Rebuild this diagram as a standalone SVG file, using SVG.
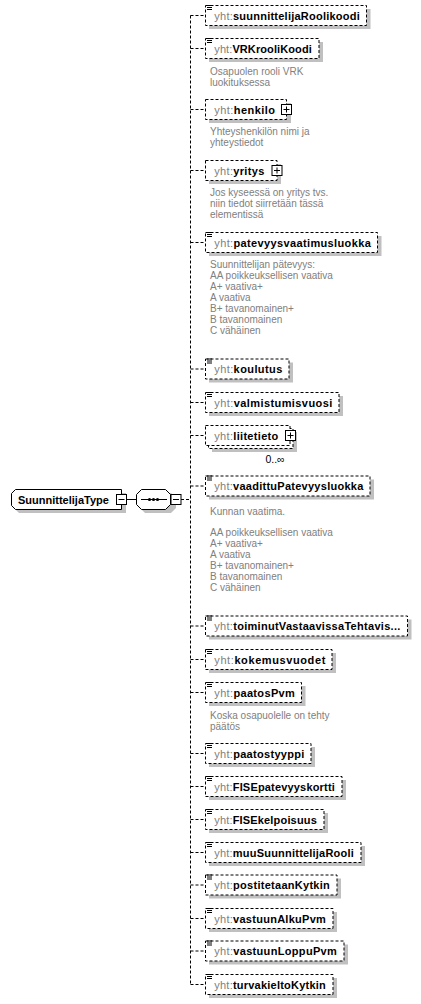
<svg xmlns="http://www.w3.org/2000/svg" width="421" height="1004" viewBox="0 0 421 1004">
<style>
.bg{fill:#fff}
.sh{fill:#c0c0c0}
.el{fill:#fff;stroke:#000;stroke-width:1;stroke-dasharray:3,2}
.cn{fill:none;stroke:#000;stroke-width:1;stroke-dasharray:3,2}
.ln{fill:none;stroke:#000;stroke-width:1}
.box{fill:#fff;stroke:#000;stroke-width:1}
.nm{font-family:"Liberation Sans",Arial,sans-serif;font-size:11px;font-weight:bold;fill:#000}
.px{font-weight:normal;fill:#808080}
.an{font-family:"Liberation Sans",Arial,sans-serif;font-size:10px;fill:#808080}
.oc{font-family:"Liberation Sans",Arial,sans-serif;font-size:10.5px;fill:#000}
</style>
<defs>
<g id="ic"><path d="M207 5.5h5M207 7.5h5M207 9.5h5" stroke="#000" stroke-width="1" fill="none"/></g>
<g id="plus"><rect x="-5" y="-5" width="10" height="10" class="box"/><path d="M-3 0h6M0 -3v6" class="ln"/></g>
<g id="minus"><rect x="-5" y="-5" width="10" height="10" class="box"/><path d="M-3 0h6" class="ln"/></g>
</defs>
<rect width="421" height="1004" class="bg"/>

<g id="connectors">
<path class="cn" d="M190.5 15.5V984.5"/>
<path class="cn" d="M190.5 15.5H205M190.5 48.5H205M190.5 109.5H205M190.5 170.5H205M190.5 242.5H205M190.5 369H205M190.5 402.5H205M190.5 435.5H205M190.5 486H205M190.5 626H205M190.5 659.5H205M190.5 692.5H205M190.5 753.5H205M190.5 786.5H205M190.5 819.5H205M190.5 852.5H205M190.5 885H205M190.5 918.5H205M190.5 951H205M190.5 984.5H205"/>
<path class="ln" d="M126.5 499.5H136"/>
<path class="cn" d="M181 499.5H190.5"/>
</g>

<g id="SuunnittelijaType">
<path class="sh" d="M19 493h107v20H19l-4-4v-12z"/>
<path class="box" d="M15.5 489.5h106v20h-106l-4-4v-12z"/>
<text class="nm" x="18" y="503.5">SuunnittelijaType</text>
<use href="#minus" x="121.5" y="499.5"/>
</g>

<g id="sequence">
<path class="sh" d="M145 493h26l5 5v10l-5 5h-26l-5-5v-10z"/>
<path class="box" d="M141.5 489.5h24l5 5v10l-5 5h-24l-5-5v-10z"/>
<path class="ln" d="M141 499.5h26"/>
<circle cx="149.5" cy="499.5" r="1.6"/><circle cx="153.5" cy="499.5" r="1.6"/><circle cx="157.5" cy="499.5" r="1.6"/>
<use href="#minus" x="176" y="499.5"/>
</g>

<g id="e1"><rect class="sh" x="209" y="9" width="161.5" height="20"/><rect class="el" x="205.5" y="5.5" width="161" height="20"/><use href="#ic"/>
<text class="nm" x="214.3" y="19.5" textLength="145.5"><tspan class="px">yht:</tspan>suunnittelijaRoolikoodi</text></g>

<g id="e2"><rect class="sh" x="209" y="42" width="114" height="20"/><rect class="el" x="205.5" y="38.5" width="113.5" height="20"/><use href="#ic" y="33"/>
<text class="nm" x="214.3" y="52.5" textLength="97.5"><tspan class="px">yht:</tspan>VRKrooliKoodi</text>
<text class="an" x="210" y="74.5">Osapuolen rooli VRK</text><text class="an" x="210" y="85.5">luokituksessa</text></g>

<g id="e3"><rect class="sh" x="209" y="103" width="82" height="20"/><rect class="el" x="205.5" y="99.5" width="81" height="20"/>
<text class="nm" x="214.3" y="113.5" textLength="60.7"><tspan class="px">yht:</tspan>henkilo</text>
<use href="#plus" x="286.5" y="109.5"/>
<text class="an" x="210" y="135">Yhteyshenkilön nimi ja</text><text class="an" x="210" y="146">yhteystiedot</text></g>

<g id="e4"><rect class="sh" x="209" y="164" width="72" height="20"/><rect class="el" x="205.5" y="160.5" width="71.5" height="20"/>
<text class="nm" x="214.3" y="174.5" textLength="50"><tspan class="px">yht:</tspan>yritys</text>
<use href="#plus" x="277" y="170.5"/>
<text class="an" x="210" y="196">Jos kyseessä on yritys tvs.</text><text class="an" x="210" y="207">niin tiedot siirretään tässä</text><text class="an" x="210" y="218">elementissä</text></g>

<g id="e5"><rect class="sh" x="209" y="236" width="172.5" height="20"/><rect class="el" x="205.5" y="232.5" width="172" height="20"/><use href="#ic" y="227"/>
<text class="nm" x="214.3" y="246.5" textLength="156.5"><tspan class="px">yht:</tspan>patevyysvaatimusluokka</text>
<text class="an" x="210" y="268">Suunnittelijan pätevyys:</text>
<text class="an" x="210" y="279">AA poikkeuksellisen vaativa</text>
<text class="an" x="210" y="290">A+ vaativa+</text>
<text class="an" x="210" y="301">A  vaativa</text>
<text class="an" x="210" y="312">B+ tavanomainen+</text>
<text class="an" x="210" y="323">B tavanomainen</text>
<text class="an" x="210" y="334">C vähäinen</text></g>

<g id="e6"><rect class="sh" x="209" y="362.5" width="84" height="20"/><rect class="el" x="205.5" y="359" width="83.5" height="20"/><use href="#ic" y="353.5"/>
<text class="nm" x="214.3" y="373" textLength="68"><tspan class="px">yht:</tspan>koulutus</text></g>

<g id="e7"><rect class="sh" x="209" y="396" width="134" height="20"/><rect class="el" x="205.5" y="392.5" width="133.5" height="20"/><use href="#ic" y="387"/>
<text class="nm" x="214.3" y="406.5" textLength="118"><tspan class="px">yht:</tspan>valmistumisvuosi</text></g>

<g id="e8"><rect class="sh" x="212" y="432" width="85" height="20"/><rect class="el" x="208.5" y="428.5" width="84.5" height="20"/><rect class="el" x="205.5" y="425.5" width="84.5" height="20"/>
<text class="nm" x="214.3" y="439.5" textLength="64"><tspan class="px">yht:</tspan>liitetieto</text>
<use href="#plus" x="290.5" y="435.5"/>
<text class="oc" x="275" y="463" text-anchor="middle">0..∞</text></g>

<g id="e9"><rect class="sh" x="209" y="479.5" width="165" height="20"/><rect class="el" x="205.5" y="476" width="164.5" height="20"/><use href="#ic" y="470.5"/>
<text class="nm" x="214.3" y="490" textLength="149"><tspan class="px">yht:</tspan>vaadittuPatevyysluokka</text>
<text class="an" x="210" y="515">Kunnan vaatima.</text>
<text class="an" x="210" y="536">AA poikkeuksellisen vaativa</text>
<text class="an" x="210" y="547">A+ vaativa+</text>
<text class="an" x="210" y="558">A  vaativa</text>
<text class="an" x="210" y="569">B+ tavanomainen+</text>
<text class="an" x="210" y="580">B tavanomainen</text>
<text class="an" x="210" y="591">C vähäinen</text></g>

<g id="e10"><rect class="sh" x="209" y="619.5" width="202.5" height="20"/><rect class="el" x="205.5" y="616" width="202" height="20"/><use href="#ic" y="610.5"/>
<text class="nm" x="214.3" y="630" textLength="186"><tspan class="px">yht:</tspan>toiminutVastaavissaTehtavis...</text></g>

<g id="e11"><rect class="sh" x="209" y="653" width="127" height="20"/><rect class="el" x="205.5" y="649.5" width="126.5" height="20"/><use href="#ic" y="644"/>
<text class="nm" x="214.3" y="663.5" textLength="111"><tspan class="px">yht:</tspan>kokemusvuodet</text></g>

<g id="e12"><rect class="sh" x="209" y="686" width="96.5" height="20"/><rect class="el" x="205.5" y="682.5" width="96" height="20"/><use href="#ic" y="677"/>
<text class="nm" x="214.3" y="696.5" textLength="80.5"><tspan class="px">yht:</tspan>paatosPvm</text>
<text class="an" x="210" y="719">Koska osapuolelle on tehty</text><text class="an" x="210" y="730">päätös</text></g>

<g id="e13"><rect class="sh" x="209" y="747" width="106" height="20"/><rect class="el" x="205.5" y="743.5" width="105.5" height="20"/><use href="#ic" y="738"/>
<text class="nm" x="214.3" y="757.5" textLength="90"><tspan class="px">yht:</tspan>paatostyyppi</text></g>

<g id="e14"><rect class="sh" x="209" y="780" width="137" height="20"/><rect class="el" x="205.5" y="776.5" width="136.5" height="20"/><use href="#ic" y="771"/>
<text class="nm" x="214.3" y="790.5" textLength="120.5"><tspan class="px">yht:</tspan>FISEpatevyyskortti</text></g>

<g id="e15"><rect class="sh" x="209" y="813" width="119" height="20"/><rect class="el" x="205.5" y="809.5" width="118.5" height="20"/><use href="#ic" y="804"/>
<text class="nm" x="214.3" y="823.5" textLength="102.5"><tspan class="px">yht:</tspan>FISEkelpoisuus</text></g>

<g id="e16"><rect class="sh" x="209" y="846" width="156" height="20"/><rect class="el" x="205.5" y="842.5" width="155.5" height="20"/><use href="#ic" y="837"/>
<text class="nm" x="214.3" y="856.5" textLength="139.5"><tspan class="px">yht:</tspan>muuSuunnittelijaRooli</text></g>

<g id="e17"><rect class="sh" x="209" y="878.5" width="132" height="20"/><rect class="el" x="205.5" y="875" width="131.5" height="20"/><use href="#ic" y="869.5"/>
<text class="nm" x="214.3" y="889" textLength="115.5"><tspan class="px">yht:</tspan>postitetaanKytkin</text></g>

<g id="e18"><rect class="sh" x="209" y="912" width="128" height="20"/><rect class="el" x="205.5" y="908.5" width="127.5" height="20"/><use href="#ic" y="903"/>
<text class="nm" x="214.3" y="922.5" textLength="111.5"><tspan class="px">yht:</tspan>vastuunAlkuPvm</text></g>

<g id="e19"><rect class="sh" x="209" y="944.5" width="139" height="20"/><rect class="el" x="205.5" y="941" width="138.5" height="20"/><use href="#ic" y="935.5"/>
<text class="nm" x="214.3" y="955" textLength="122.5"><tspan class="px">yht:</tspan>vastuunLoppuPvm</text></g>

<g id="e20"><rect class="sh" x="209" y="978" width="128" height="20"/><rect class="el" x="205.5" y="974.5" width="127.5" height="20"/><use href="#ic" y="969"/>
<text class="nm" x="214.3" y="988.5" textLength="111.5"><tspan class="px">yht:</tspan>turvakieltoKytkin</text></g>
</svg>
